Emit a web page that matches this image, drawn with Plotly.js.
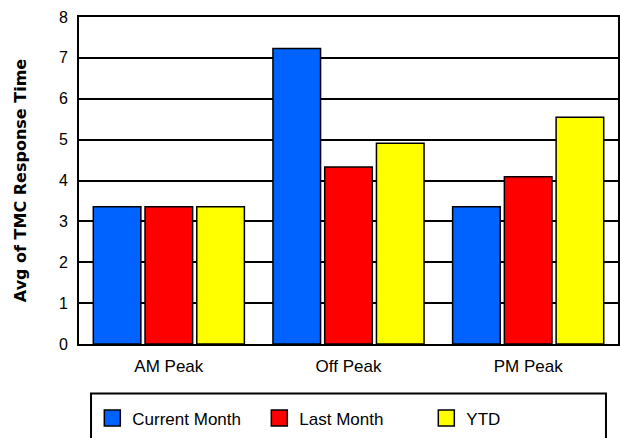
<!DOCTYPE html>
<html><head><meta charset="utf-8">
<script src="https://cdn.plot.ly/plotly-3.0.1.min.js"></script>
<style>html,body{margin:0;padding:0;background:#fff}#chart{width:620px;height:438px}</style>
</head><body><div id="chart"></div>
<script>
const categories = ['AM Peak', 'Off Peak', 'PM Peak'];
const seriesNames = ['Current Month', 'Last Month', 'YTD'];
const currentMonth = [3.36, 7.23, 3.36];
const lastMonth = [3.36, 4.33, 4.09];
const ytd = [3.36, 4.91, 5.55];
const yTickVals = [0, 1, 2, 3, 4, 5, 6, 7, 8];
const yTitle = 'Avg of TMC Response Time';
const colors = ['#0062FF', '#FF0000', '#FFFF00'];

const seriesValues = [currentMonth, lastMonth, ytd];
const data = [];
seriesValues.forEach((vals, i) => {
  data.push({
    type: 'bar', name: seriesNames[i], x: categories, y: vals,
    legendgroup: seriesNames[i], showlegend: false,
    marker: {color: colors[i], line: {color: '#000', width: 1.5}},
    hoverinfo: 'x+y+name'
  });
});
seriesValues.forEach((vals, i) => {
  data.push({
    type: 'scatter', mode: 'markers', name: seriesNames[i], x: [null], y: [null],
    legendgroup: seriesNames[i], showlegend: true,
    marker: {symbol: 'square', size: 16, color: colors[i], line: {color: '#000', width: 1.5}},
    hoverinfo: 'skip'
  });
});

const layout = {
  width: 620, height: 438,
  margin: {l: 79, r: 2, t: 17, b: 90, pad: 0},
  paper_bgcolor: '#fff', plot_bgcolor: '#fff',
  font: {family: 'Liberation Sans, Arial, sans-serif', color: '#000', size: 17},
  barmode: 'group', bargap: 0.136, bargroupgap: 0.08,
  showlegend: true,
  legend: {
    orientation: 'h', x: 0.0247, y: -0.173, xanchor: 'left', yanchor: 'top',
    bgcolor: 'rgba(0,0,0,0)', borderwidth: 0, font: {size: 17},
    entrywidth: 122, entrywidthmode: 'pixels', itemsizing: 'trace'
  },
  xaxis: {
    type: 'category', showline: true, linecolor: '#000', linewidth: 2, mirror: true,
    ticks: '', tickfont: {size: 17}, ticklabelstandoff: 6, fixedrange: true
  },
  yaxis: {
    range: [0, 8], tickvals: yTickVals, showgrid: true, gridcolor: '#000', gridwidth: 1.5,
    showline: true, linecolor: '#000', linewidth: 2, mirror: true, zeroline: false,
    ticks: '', tickfont: {size: 16}, ticklabelstandoff: 6, fixedrange: true,
    title: {text: yTitle, font: {family: 'DejaVu Sans, sans-serif', size: 16, weight: 'bold'}, standoff: 28}
  },
  shapes: [{
    type: 'rect', xref: 'paper', yref: 'paper',
    x0: 0.0223, x1: 0.9777, y0: -0.1512, y1: -0.30,
    line: {color: '#000', width: 2}, fillcolor: 'rgba(0,0,0,0)'
  }]
};

Plotly.newPlot('chart', data, layout, {displayModeBar: false, staticPlot: false});
</script>
</body></html>
